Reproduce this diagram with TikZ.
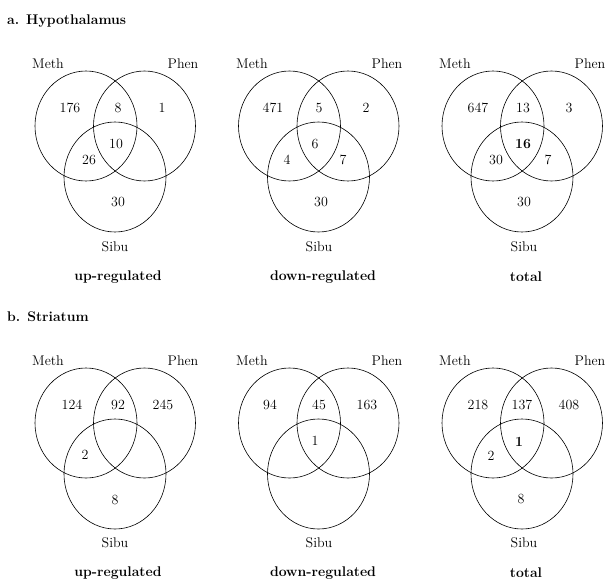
\documentclass[tikz,border=0pt]{standalone}
\usetikzlibrary{shapes,positioning}

\begin{document}
\begin{tikzpicture}[
    x=1pt, y=-1pt,
    set/.style={ellipse, draw, line width=0.6pt, minimum width=102pt, minimum height=110pt, inner sep=0pt},
    num/.style={inner sep=0pt, font=\fontsize{14}{16}\selectfont},
    setname/.style={inner sep=0pt, font=\fontsize{14}{16}\selectfont},
    caption/.style={inner sep=0pt, font=\fontsize{14}{16}\selectfont\bfseries},
    heading/.style={inner sep=0pt, anchor=west, font=\fontsize{14}{16}\selectfont\bfseries}
]
    \useasboundingbox (0,0) rectangle (608,581);

    % a. Hypothalamus
    \node[heading] (ha) at (7,21) {a. Hypothalamus};

    \begin{scope}[shift={(86,126)}]
        \node[set] (hu-meth) at (0,0) {};
        \node[set] (hu-phen) at (58.5,0) {};
        \node[set] (hu-sibu) at (29,51) {};
        \node[setname] (hu-lm) at (-38,-62) {Meth};
        \node[setname] (hu-lp) at (97,-62) {Phen};
        \node[setname] (hu-ls) at (29,121) {Sibu};
        \node[caption] (hu-cap) at (32,151) {up-regulated};
        \node[num] (hu-m) at (-16,-18) {176};
        \node[num] (hu-mp) at (32,-18) {8};
        \node[num] (hu-p) at (76,-18) {1};
        \node[num] (hu-mps) at (30,18) {10};
        \node[num] (hu-ms) at (3,34) {26};
        \node[num] (hu-s) at (32,76) {30};
    \end{scope}

    \begin{scope}[shift={(289.5,126)}]
        \node[set] (hd-meth) at (0,0) {};
        \node[set] (hd-phen) at (58.5,0) {};
        \node[set] (hd-sibu) at (29,51) {};
        \node[setname] (hd-lm) at (-37.5,-62) {Meth};
        \node[setname] (hd-lp) at (97.5,-62) {Phen};
        \node[setname] (hd-ls) at (29.5,121) {Sibu};
        \node[caption] (hd-cap) at (33.5,151) {down-regulated};
        \node[num] (hd-m) at (-16.5,-18) {471};
        \node[num] (hd-mp) at (29.5,-18) {5};
        \node[num] (hd-p) at (76.5,-18) {2};
        \node[num] (hd-mps) at (25.5,18) {6};
        \node[num] (hd-ms) at (-2.5,34) {4};
        \node[num] (hd-ps) at (53.5,34) {7};
        \node[num] (hd-s) at (31.5,76) {30};
    \end{scope}

    \begin{scope}[shift={(493,126)}]
        \node[set] (ht-meth) at (0,0) {};
        \node[set] (ht-phen) at (58.5,0) {};
        \node[set] (ht-sibu) at (29,51) {};
        \node[setname] (ht-lm) at (-38,-62) {Meth};
        \node[setname] (ht-lp) at (97,-62) {Phen};
        \node[setname] (ht-ls) at (31,121) {Sibu};
        \node[caption] (ht-cap) at (33,151) {total};
        \node[num] (ht-m) at (-15,-18) {647};
        \node[num] (ht-mp) at (30,-18) {13};
        \node[num] (ht-p) at (76,-18) {3};
        \node[num, font=\fontsize{14}{16}\selectfont\bfseries] (ht-mps) at (30,18) {16};
        \node[num] (ht-ms) at (3,34) {30};
        \node[num] (ht-ps) at (55,34) {7};
        \node[num] (ht-s) at (31,76) {30};
    \end{scope}

    % b. Striatum
    \node[heading] (sb) at (7,317) {b. Striatum};

    \begin{scope}[shift={(86,423)}]
        \node[set] (su-meth) at (0,0) {};
        \node[set] (su-phen) at (58.5,0) {};
        \node[set] (su-sibu) at (29,51) {};
        \node[setname] (su-lm) at (-38,-62) {Meth};
        \node[setname] (su-lp) at (97,-62) {Phen};
        \node[setname] (su-ls) at (29,120) {Sibu};
        \node[caption] (su-cap) at (32,150) {up-regulated};
        \node[num] (su-m) at (-14,-18) {124};
        \node[num] (su-mp) at (32,-18) {92};
        \node[num] (su-p) at (77,-18) {245};
        \node[num] (su-ms) at (-1,32) {2};
        \node[num] (su-s) at (29,77) {8};
    \end{scope}

    \begin{scope}[shift={(289.5,423)}]
        \node[set] (sd-meth) at (0,0) {};
        \node[set] (sd-phen) at (58.5,0) {};
        \node[set] (sd-sibu) at (29,51) {};
        \node[setname] (sd-lm) at (-37.5,-62) {Meth};
        \node[setname] (sd-lp) at (97.5,-62) {Phen};
        \node[setname] (sd-ls) at (29.5,120) {Sibu};
        \node[caption] (sd-cap) at (33.5,150) {down-regulated};
        \node[num] (sd-m) at (-19.5,-18) {94};
        \node[num] (sd-mp) at (29.5,-18) {45};
        \node[num] (sd-p) at (77.5,-18) {163};
        \node[num] (sd-mps) at (25.5,18) {1};
    \end{scope}

    \begin{scope}[shift={(493,423)}]
        \node[set] (st-meth) at (0,0) {};
        \node[set] (st-phen) at (58.5,0) {};
        \node[set] (st-sibu) at (29,51) {};
        \node[setname] (st-lm) at (-38,-62) {Meth};
        \node[setname] (st-lp) at (97,-62) {Phen};
        \node[setname] (st-ls) at (31,120) {Sibu};
        \node[caption] (st-cap) at (33,150) {total};
        \node[num] (st-m) at (-15,-18) {218};
        \node[num] (st-mp) at (29,-18) {137};
        \node[num] (st-p) at (76,-18) {408};
        \node[num, font=\fontsize{14}{16}\selectfont\bfseries] (st-mps) at (26,19) {1};
        \node[num] (st-ms) at (-2,33) {2};
        \node[num] (st-s) at (28,76) {8};
    \end{scope}
\end{tikzpicture}
\end{document}
